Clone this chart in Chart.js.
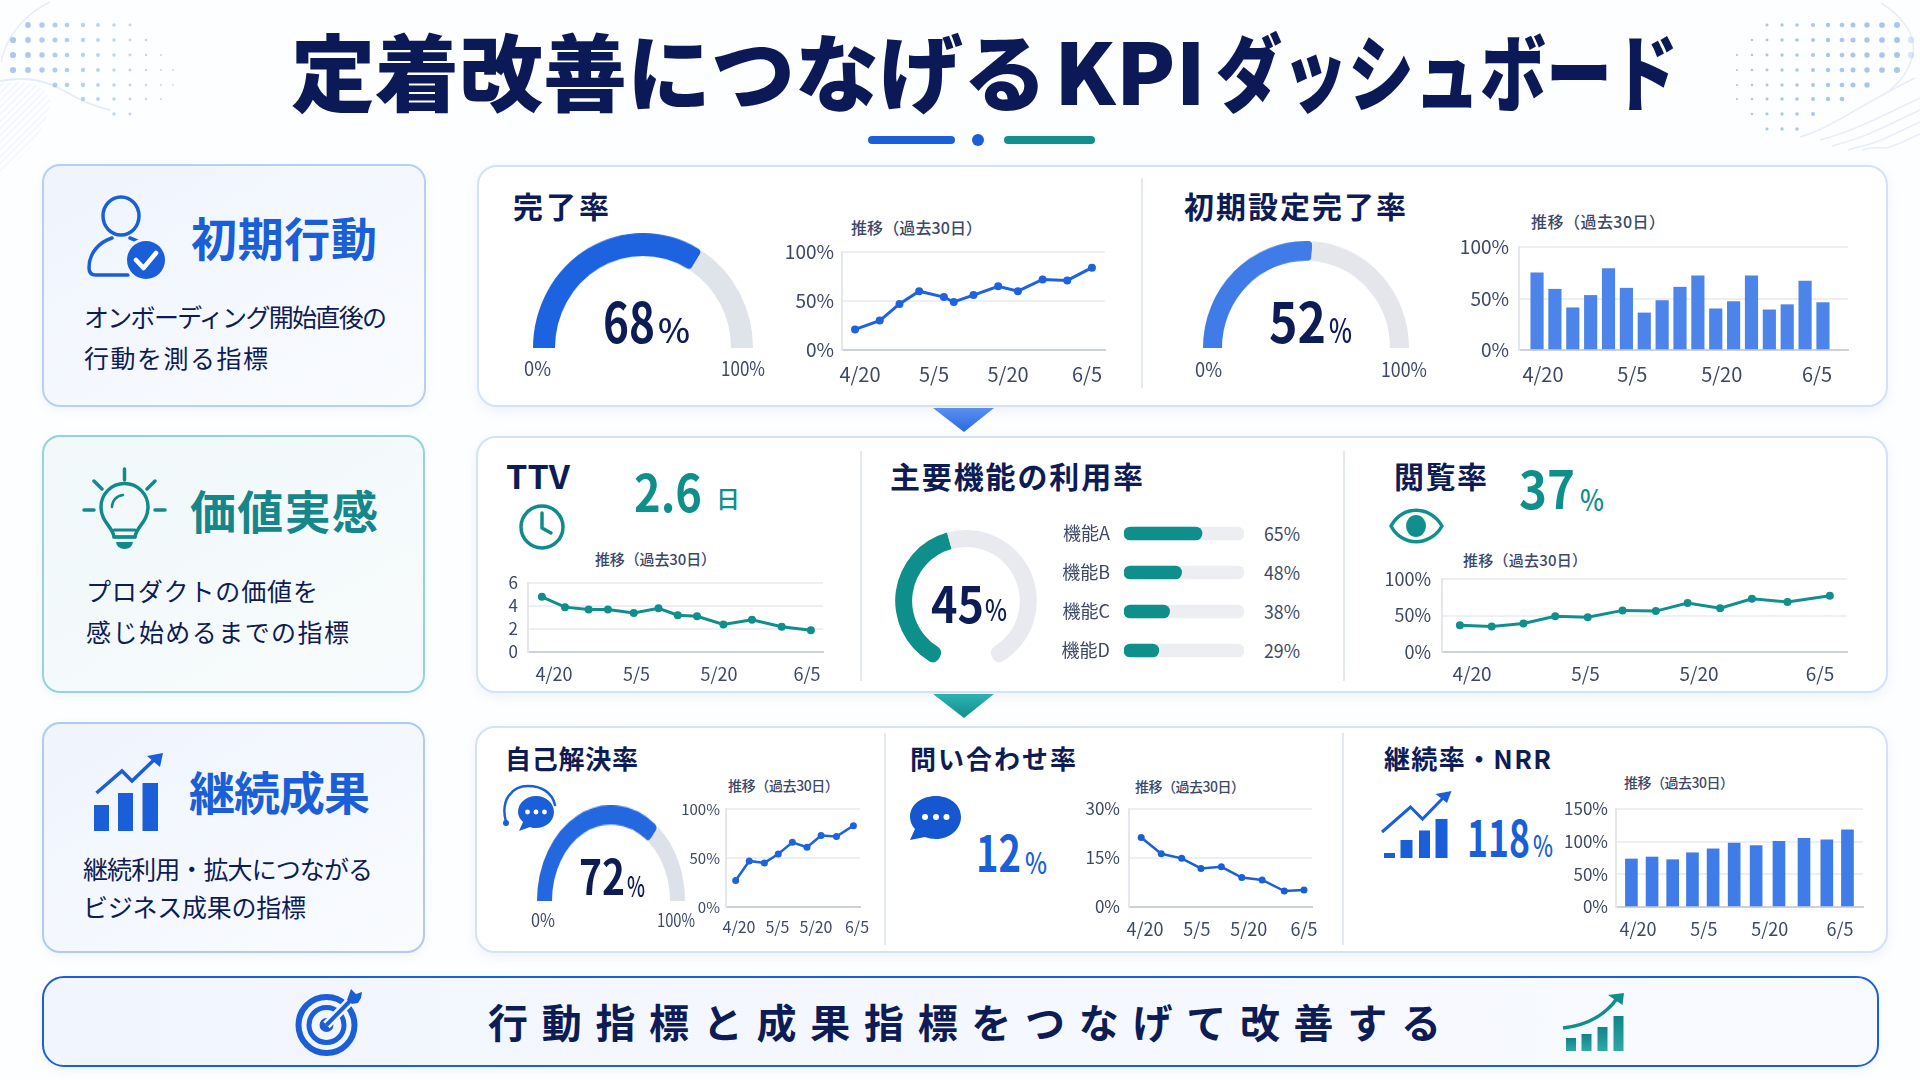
<!DOCTYPE html>
<html lang="ja">
<head>
<meta charset="utf-8">
<title>定着改善につなげるKPIダッシュボード</title>
<script src="https://cdn.jsdelivr.net/npm/chart.js@4"></script>
<style>
  html, body { margin: 0; padding: 0; background: #fdfeff; overflow: hidden; }
  #stage { position: relative; width: 1920px; height: 1080px; overflow: hidden; font-family: 'Noto Sans CJK JP', sans-serif; }
  #stage canvas { position: absolute; }
  .box { position: absolute; box-sizing: border-box; }
  .txt { position: absolute; white-space: nowrap; line-height: 1; transform-origin: left center; }
  svg.layer { position: absolute; left: 0; top: 0; pointer-events: none; }
</style>
</head>
<body>
<div id="stage"></div>
<script>
// ---- KPI values ----
const completionRate = 68;
const setupRate = 52;
const ttvValue = '2.6';
const coreFeatureRate = 45;
const viewRate = 37;
const selfServeRate = 72;
const inquiryRate = 12;
const retentionRate = 118;

// ---- Shared date axis: days counted from 4/20 ----
const tickDays = [0, 15, 30, 46];
const tickLabels = ['4/20', '5/5', '5/20', '6/5'];

// ---- Trend series ----
const completionDays = [-1, 4, 8, 12, 17, 19, 23, 28, 32, 37, 42, 47];
const completionTrend = [21, 30, 47, 60, 54, 49, 56, 65, 60, 72, 71, 84];

const setupDays = [-1, 2, 5, 8, 11, 14, 17, 20, 23, 26, 29, 32, 35, 38, 41, 44, 47];
const setupTrend = [75, 59, 41, 53, 79, 60, 36, 48, 61, 72, 40, 47, 72, 39, 44, 67, 46];

const ttvDays = [-2.2, 2, 6.3, 9.8, 14.5, 19, 22.5, 26, 30.8, 36, 41.4, 46.7];
const ttvTrend = [4.8, 3.9, 3.7, 3.7, 3.4, 3.8, 3.2, 3.1, 2.4, 2.8, 2.2, 1.9];

const viewDays = [-1.6, 2.6, 6.8, 11, 15.3, 19.9, 24.3, 28.5, 32.8, 37, 41.7, 47.3];
const viewTrend = [36.5, 35, 39, 49, 47.5, 57, 56, 67, 60, 73, 68.5, 77];

const selfServeDays = [-1.3, 4, 9.9, 15.3, 20.8, 26.5, 32, 38, 44.6];
const selfServeTrend = [27, 47, 45, 54, 66, 61, 73, 72, 83];

const inquiryDays = [-1.1, 4.7, 10.6, 16.2, 22.1, 28, 33.9, 40.3, 46];
const inquiryTrend = [21.3, 16.3, 14.9, 11.8, 12.3, 9, 8.3, 4.9, 5.2];

const retentionDays = [-1.5, 3.2, 7.9, 12.4, 17.1, 21.9, 26.9, 32.1, 37.8, 43, 47.7];
const retentionTrend = [73.5, 76.5, 72.4, 83, 89, 98, 94, 100.7, 105, 103, 118];

// ---- Feature usage ----
const featureNames = ['機能A', '機能B', '機能C', '機能D'];
const featureRates = [65, 48, 38, 29];

// ---- Palette and fonts ----
const NAVY = '#0e1c55', BLUE = '#1a5fd8', BLUE2 = '#4d84ea', TEAL = '#0f8f8c', MUTED = '#3d4868';
const JP = "'Noto Sans CJK JP', sans-serif";
const NARROW = "'Liberation Sans Narrow', 'Noto Sans CJK JP', sans-serif";

const stage = document.getElementById('stage');

// Rectangular card or panel in page coordinates.
function box(l, t, r, b, css) {
  const d = document.createElement('div');
  d.className = 'box';
  d.style.cssText = `left:${l}px;top:${t}px;width:${r - l}px;height:${b - t}px;${css}`;
  stage.appendChild(d);
}

// Text placed by its horizontal extent and vertical centre.
// Japanese runs are fitted with letter spacing, Latin and digit runs with a horizontal scale.
function text(str, x0, x1, yc, size, weight, color, family, parent) {
  const s = document.createElement('span');
  s.className = 'txt';
  s.textContent = str;
  s.style.cssText = `left:${x0}px;top:${yc - size / 2 - size * 0.06}px;font-size:${size}px;font-weight:${weight};color:${color};font-family:${family || JP};`;
  (parent || stage).appendChild(s);
  const w = s.getBoundingClientRect().width;
  if (/[^\x00-\x7f]/.test(str) && (x1 - x0) / w > 0.9) {
    s.style.letterSpacing = ((x1 - x0 - w) / (str.length - 1)) + 'px';
  } else {
    s.style.transform = `scaleX(${(x1 - x0) / w})`;
  }
}

function hline(x, y0, y1) {
  box(x - 1, y0, x + 1, y1, 'background:#e4e8f0;');
}

// Half-ring gauge; the canvas is stretched vertically to the ring's ry.
function gauge(value, cx, cy, rx, ry, thick, color, trackColor) {
  const c = document.createElement('canvas');
  c.width = rx * 2; c.height = rx;
  c.style.cssText = `left:${cx - rx}px;top:${cy - rx}px;width:${rx * 2}px;height:${rx}px;transform-origin:50% 100%;transform:scaleY(${ry / rx});`;
  stage.appendChild(c);
  new Chart(c, {
    type: 'doughnut',
    data: { datasets: [{
      data: [value, 100 - value],
      backgroundColor: [color, trackColor],
      borderWidth: 0,
      borderRadius: [{ outerStart: 0, innerStart: 0, outerEnd: 4, innerEnd: 4 }, 0]
    }] },
    options: {
      responsive: false, animation: false, devicePixelRatio: 1,
      rotation: -90, circumference: 180,
      cutout: ((1 - thick / rx) * 100) + '%',
      layout: { padding: 0 },
      plugins: { legend: { display: false }, tooltip: { enabled: false } }
    }
  });
}

// Open ring for the core feature rate.
function openRing(value, l, t, size, thick, color, trackColor) {
  const c = document.createElement('canvas');
  const h = Math.round(size * 0.953);
  c.width = size; c.height = h;
  c.style.cssText = `left:${l}px;top:${t}px;width:${size}px;height:${h}px;`;
  stage.appendChild(c);
  new Chart(c, {
    type: 'doughnut',
    data: { datasets: [{
      data: [value, 100 - value],
      backgroundColor: [color, trackColor],
      borderWidth: 0,
      borderRadius: [{ outerStart: 7, innerStart: 7, outerEnd: 0, innerEnd: 0 }, { outerStart: 0, innerStart: 0, outerEnd: 7, innerEnd: 7 }]
    }] },
    options: {
      responsive: false, animation: false, devicePixelRatio: 1,
      rotation: -155, circumference: 310,
      cutout: ((1 - thick / (size / 2)) * 100) + '%',
      layout: { padding: 0 },
      plugins: { legend: { display: false }, tooltip: { enabled: false } }
    }
  });
}

// Trend chart with a fixed plot box: the canvas is sized so the chart area lands on the box.
// The margins are generous so the scales' own label padding never shifts the box.
function trend(opt) {
  const { type, days, values, plot, tickL, tickR, yMax, yStep, ySuffix, yLabelRight, xLabelY, color, font, bar, line, point } = opt;
  const yW = 70, padT = 40, padR = 40, xH = 44;
  const c = document.createElement('canvas');
  const W = plot.r - plot.l + yW + padR, H = plot.b - plot.t + padT + xH;
  c.width = W; c.height = H;
  c.style.cssText = `left:${plot.l - yW}px;top:${plot.t - padT}px;width:${W}px;height:${H}px;`;
  stage.appendChild(c);
  const perDay = (tickR - tickL) / 46;
  new Chart(c, {
    type,
    data: { datasets: [{
      data: days.map((d, i) => ({ x: d, y: values[i] })),
      borderColor: color, backgroundColor: color,
      borderWidth: type === 'line' ? line : 0,
      pointRadius: point, pointBackgroundColor: color, pointBorderWidth: 0,
      tension: 0, barThickness: bar
    }] },
    options: {
      responsive: false, animation: false, devicePixelRatio: 1,
      layout: { autoPadding: false, padding: { top: padT, right: padR, left: 0, bottom: 0 } },
      plugins: { legend: { display: false }, tooltip: { enabled: false } },
      scales: {
        x: {
          type: 'linear', offset: false,
          min: (plot.l - tickL) / perDay, max: (plot.r - tickL) / perDay,
          afterBuildTicks: s => { s.ticks = tickDays.map(value => ({ value })); },
          afterFit: s => { s.height = xH; },
          grid: { display: false, drawTicks: false },
          border: { color: '#ccd1da', width: 2 },
          ticks: {
            autoSkip: false, maxRotation: 0, minRotation: 0, color: MUTED, font: { family: NARROW, size: font },
            padding: xLabelY - plot.b - font / 2,
            callback: v => tickLabels[tickDays.indexOf(v)]
          }
        },
        y: {
          min: 0, max: yMax,
          afterFit: s => { s.width = yW; },
          grid: { drawTicks: false, lineWidth: 2, color: ctx => ctx.tick.value === 0 ? 'rgba(0,0,0,0)' : '#edeff4' },
          border: { color: '#e4e7ee', width: 2 },
          ticks: {
            autoSkip: false, stepSize: yStep, color: MUTED, font: { family: NARROW, size: font - 1 },
            padding: plot.l - yLabelRight,
            callback: v => v + ySuffix
          }
        }
      }
    }
  });
}

// ---- Cards and panels ----
const panelCss = 'background:#fff;border:2px solid #d3e2f6;border-radius:20px;box-shadow:0 4px 12px rgba(120,150,200,.12);';
box(42, 164, 426, 407, 'background:linear-gradient(150deg,#eff4fd,#f9fbff);border:2px solid #b7cff4;border-radius:18px;box-shadow:0 3px 10px rgba(120,150,200,.10);');
box(42, 435, 425, 693, 'background:linear-gradient(150deg,#f0f8fa,#f8fbfc);border:2px solid #93d3da;border-radius:18px;box-shadow:0 3px 10px rgba(120,170,180,.10);');
box(42, 722, 425, 953, 'background:linear-gradient(150deg,#eff4fd,#f9fbff);border:2px solid #b0caf3;border-radius:18px;box-shadow:0 3px 10px rgba(120,150,200,.10);');
box(477, 165, 1888, 407, panelCss);
box(476, 436, 1888, 693, panelCss);
box(475, 726, 1888, 953, panelCss);
box(42, 976, 1879, 1067, 'background:linear-gradient(90deg,#f1f5fd,#f8faff);border:2.5px solid #1a5fd8;border-radius:22px;box-shadow:0 3px 10px rgba(120,150,200,.12);');

hline(1142, 178, 388);
hline(861, 451, 681);
hline(1344, 451, 681);
hline(885, 733, 945);
hline(1343, 733, 945);

// ---- Title: one element, three runs with their own widths ----
const titleEl = document.createElement('div');
titleEl.setAttribute('role', 'heading');
stage.appendChild(titleEl);
text('定着改善につなげる', 291, 1047, 74, 84, 900, '#0b1a57', JP, titleEl);
text('KPI', 1054, 1206, 74, 84, 900, '#0b1a57', JP, titleEl);
text('ダッシュボード', 1216, 1678, 74, 84, 900, '#0b1a57', JP, titleEl);
box(868, 136, 955, 144, 'background:#1a5fd8;border-radius:4px;');
box(972, 134, 984, 146, 'background:#1a5fd8;border-radius:50%;');
box(1004, 136, 1095, 144, 'background:#11908e;border-radius:4px;');

// ---- Left column ----
text('初期行動', 191, 377, 239, 46, 700, BLUE);
text('オンボーディング開始直後の', 84, 387, 318, 25, 400, NAVY);
text('行動を測る指標', 84, 268, 359, 25, 400, NAVY);

text('価値実感', 190, 378, 512, 46, 700, '#15868a');
text('プロダクトの価値を', 86, 318, 592, 25, 400, NAVY);
text('感じ始めるまでの指標', 86, 349, 633, 25, 400, NAVY);

text('継続成果', 189, 370, 793, 46, 700, BLUE);
text('継続利用・拡大につながる', 83, 373, 870, 25, 400, NAVY);
text('ビジネス成果の指標', 83, 306, 908, 25, 400, NAVY);

// ---- Row 1 ----
text('完了率', 513, 609, 207, 30, 700, NAVY);
gauge(completionRate, 642.5, 348, 110, 115, 22, '#1d62de', '#dfe3ea');
text(String(completionRate), 603, 655, 322, 56, 700, NAVY);
text('%', 658, 690, 331, 34, 500, NAVY);
text('0%', 524, 551, 369, 20, 400, MUTED, NARROW);
text('100%', 721, 765, 369, 20, 400, MUTED, NARROW);
text('推移（過去30日）', 851, 982, 228, 16, 500, MUTED);
trend({ type: 'line', days: completionDays, values: completionTrend,
  plot: { l: 842, r: 1105, t: 252, b: 350 }, tickL: 860, tickR: 1087,
  yMax: 100, yStep: 50, ySuffix: '%', yLabelRight: 834, xLabelY: 372,
  color: '#1d62de', font: 20, line: 3, point: 4 });

text('初期設定完了率', 1184, 1406, 207, 30, 700, NAVY);
gauge(setupRate, 1306, 348, 103, 107, 19, '#3f7ce8', '#e4e6ec');
text(String(setupRate), 1269, 1326, 322, 56, 700, NAVY);
text('%', 1329, 1352, 331, 34, 500, NAVY);
text('0%', 1195, 1222, 370, 20, 400, MUTED, NARROW);
text('100%', 1381, 1427, 370, 20, 400, MUTED, NARROW);
text('推移（過去30日）', 1531, 1665, 222, 16, 500, MUTED);
trend({ type: 'bar', days: setupDays, values: setupTrend,
  plot: { l: 1519, r: 1848, t: 247, b: 350 }, tickL: 1543, tickR: 1817,
  yMax: 100, yStep: 50, ySuffix: '%', yLabelRight: 1509, xLabelY: 372,
  color: BLUE2, font: 20, bar: 12.5 });

// ---- Row 2 ----
text('TTV', 506, 570, 477, 32, 700, NAVY);
text(ttvValue, 634, 702, 493, 52, 700, TEAL);
text('日', 716, 738, 499, 24, 500, TEAL);
text('推移（過去30日）', 595, 716, 559, 15, 500, MUTED);
trend({ type: 'line', days: ttvDays, values: ttvTrend,
  plot: { l: 528, r: 823, t: 583, b: 652 }, tickL: 554, tickR: 807,
  yMax: 6, yStep: 2, ySuffix: '', yLabelRight: 518, xLabelY: 672,
  color: TEAL, font: 18, line: 3, point: 4 });

text('主要機能の利用率', 890, 1143, 477, 30, 700, NAVY);
openRing(coreFeatureRate, 895, 530, 142, 17, TEAL, '#e8eaef');
text(String(coreFeatureRate), 931, 984, 604, 50, 700, NAVY);
text('%', 985, 1007, 610, 30, 500, NAVY);

// Horizontal feature bars: a value bar laid over a full-length track.
(function () {
  const plot = { l: 1124, r: 1244, t: 513.5, b: 669.5 }, yW = 70, margin = 30;
  const c = document.createElement('canvas');
  c.width = plot.r - plot.l + yW + 4; c.height = plot.b - plot.t + margin * 2;
  c.style.cssText = `left:${plot.l - yW}px;top:${plot.t - margin}px;width:${c.width}px;height:${c.height}px;`;
  stage.appendChild(c);
  new Chart(c, {
    type: 'bar',
    data: { labels: featureNames, datasets: [
      { data: featureRates, backgroundColor: TEAL, grouped: false, order: 0, barThickness: 13, borderRadius: 7, borderSkipped: false },
      { data: featureNames.map(() => 100), backgroundColor: '#eceef2', grouped: false, order: 1, barThickness: 13, borderRadius: 7, borderSkipped: false }
    ] },
    options: {
      indexAxis: 'y', responsive: false, animation: false, devicePixelRatio: 1,
      layout: { autoPadding: false, padding: { right: 4, top: margin, bottom: margin } },
      plugins: { legend: { display: false }, tooltip: { enabled: false } },
      scales: {
        x: { display: false, min: 0, max: 100 },
        y: {
          afterFit: s => { s.width = yW; },
          grid: { display: false, drawTicks: false }, border: { display: false },
          ticks: { color: MUTED, padding: 14, font: { family: JP, size: 18 } }
        }
      }
    }
  });
})();
featureRates.forEach((v, i) => {
  text(v + '%', 1264, 1300, 534 + i * 39, 19, 400, MUTED, NARROW);
});

text('閲覧率', 1394, 1487, 477, 30, 700, NAVY);
text(String(viewRate), 1519, 1575, 490, 52, 700, TEAL);
text('%', 1580, 1604, 500, 30, 500, TEAL);
text('推移（過去30日）', 1463, 1587, 560, 15, 500, MUTED);
trend({ type: 'line', days: viewDays, values: viewTrend,
  plot: { l: 1442, r: 1847, t: 579, b: 652 }, tickL: 1472, tickR: 1820,
  yMax: 100, yStep: 50, ySuffix: '%', yLabelRight: 1431, xLabelY: 672,
  color: '#118f8f', font: 19, line: 3, point: 4 });

// ---- Row 3 ----
text('自己解決率', 505, 638, 760, 26, 700, NAVY);
gauge(selfServeRate, 611, 901, 74, 96, 15, '#2468e0', '#dde1e9');
text(String(selfServeRate), 579, 625, 877, 48, 700, NAVY);
text('%', 627, 645, 887, 28, 500, NAVY);
text('0%', 531, 555, 920, 18, 400, MUTED, NARROW);
text('100%', 657, 695, 920, 18, 400, MUTED, NARROW);
text('推移（過去30日）', 728, 839, 786, 14, 500, MUTED);
trend({ type: 'line', days: selfServeDays, values: selfServeTrend,
  plot: { l: 726, r: 860, t: 809, b: 907 }, tickL: 739, tickR: 857,
  yMax: 100, yStep: 50, ySuffix: '%', yLabelRight: 720, xLabelY: 925,
  color: '#1d62de', font: 16, line: 2.5, point: 3.5 });

text('問い合わせ率', 910, 1076, 760, 26, 700, NAVY);
text(String(inquiryRate), 976, 1021, 853, 50, 700, BLUE);
text('%', 1025, 1047, 863, 30, 500, BLUE);
text('推移（過去30日）', 1135, 1245, 787, 14, 500, MUTED);
trend({ type: 'line', days: inquiryDays, values: inquiryTrend,
  plot: { l: 1129, r: 1312, t: 809, b: 907 }, tickL: 1145, tickR: 1304,
  yMax: 30, yStep: 15, ySuffix: '%', yLabelRight: 1120, xLabelY: 927,
  color: BLUE, font: 18, line: 2.5, point: 3.5 });

text('継続率・NRR', 1384, 1551, 760, 26, 700, NAVY);
text(String(retentionRate), 1467, 1530, 838, 50, 700, BLUE);
text('%', 1533, 1553, 846, 30, 500, BLUE);
text('推移（過去30日）', 1624, 1734, 783, 14, 500, MUTED);
trend({ type: 'bar', days: retentionDays, values: retentionTrend,
  plot: { l: 1616, r: 1863, t: 809, b: 907 }, tickL: 1638, tickR: 1840,
  yMax: 150, yStep: 50, ySuffix: '%', yLabelRight: 1608, xLabelY: 927,
  color: '#3f7ce8', font: 18, bar: 12 });

// ---- Bottom banner ----
text('行動指標と成果指標をつなげて改善する', 488, 1441, 1023, 40, 700, NAVY);

// ---- Decoration and icons drawn in page coordinates ----
const NS = 'http://www.w3.org/2000/svg';
const svg = document.createElementNS(NS, 'svg');
svg.setAttribute('class', 'layer');
svg.setAttribute('width', 1920); svg.setAttribute('height', 1080);
svg.setAttribute('viewBox', '0 0 1920 1080');
let art = `
<defs>
  <linearGradient id="tealBars" x1="0" y1="0" x2="0" y2="1"><stop offset="0" stop-color="#0f8488"/><stop offset="1" stop-color="#30a8a4"/></linearGradient>
  <linearGradient id="arrowBlue" x1="0" y1="0" x2="0" y2="1"><stop offset="0" stop-color="#5a90ee"/><stop offset="1" stop-color="#2a6ae2"/></linearGradient>
  <linearGradient id="arrowTeal" x1="0" y1="0" x2="0" y2="1"><stop offset="0" stop-color="#2fb2b4"/><stop offset="1" stop-color="#0f8f8c"/></linearGradient>
  <pattern id="hatch" width="5" height="5" patternUnits="userSpaceOnUse" patternTransform="rotate(45)"><rect width="1.6" height="5" fill="#e6ecf6"/></pattern>
</defs>
<!-- connectors between rows -->
<polygon points="933,408 994,408 964,432" fill="url(#arrowBlue)"/>
<polygon points="933,694 994,694 964,718" fill="url(#arrowTeal)"/>
<!-- corner flourishes -->
<path d="M50 2 C25 14 6 36 1 62" fill="none" stroke="#e6eef9" stroke-width="1.5"/>
<path d="M0 81 C26 76 46 80 66 92 C80 100 92 106 110 110" fill="none" stroke="#e4ecf8" stroke-width="2"/>
<path d="M0 84 C26 79 44 84 50 100 C48 130 24 160 0 172 Z" fill="url(#hatch)" opacity=".45"/>
<path d="M1881 3 C1905 18 1918 38 1912 58 C1908 72 1900 82 1890 90" fill="none" stroke="#e6eef9" stroke-width="1.5"/>`;
[[1800, 137, 1915, 78], [1820, 140, 1920, 98], [1832, 146, 1920, 110], [1848, 150, 1920, 122], [1862, 150, 1920, 134]].forEach(p => {
  art += `<path d="M${p[0]} ${p[1]} C${p[0] + 30} ${p[1] - 8} ${p[2] - 50} ${p[3] + 24} ${p[2]} ${p[3]}" fill="none" stroke="#e6eef9" stroke-width="1.5"/>`;
});
// Corner dot fields, larger toward the outer edge
const leftCols = [13, 28, 42, 55, 67, 83, 98, 114, 130, 146, 161, 173];
const leftRows = [[25, 1, 8], [40, 0, 9], [55, 0, 10], [70, 0, 11], [85, 3, 11], [99, 5, 10], [114, 7, 8]];
leftRows.forEach(([y, a, b]) => {
  for (let i = a; i <= b; i++) {
    const x = leftCols[i];
    art += `<circle cx="${x}" cy="${y}" r="${Math.max(0.8, 3.3 - x * 0.014)}" fill="#a6c2ef" opacity="${0.95 - x * 0.002}"/>`;
  }
});
const rightCols = [1737, 1752, 1767, 1782, 1797, 1813, 1828, 1842, 1853, 1867, 1882, 1897, 1911];
const rightRows = [[25, 2, 11], [40, 1, 12], [55, 0, 12], [70, 0, 11], [85, 0, 9], [99, 0, 7], [114, 1, 5], [129, 2, 4]];
rightRows.forEach(([y, a, b]) => {
  for (let i = a; i <= b; i++) {
    const x = rightCols[i];
    art += `<circle cx="${x}" cy="${y}" r="${Math.max(0.8, 3.2 - (1911 - x) * 0.012)}" fill="#a6c2ef" opacity="${i === 12 ? 0.4 : 0.95}"/>`;
  }
});
art += `
<!-- person with check badge -->
<g fill="none" stroke="${BLUE}" stroke-width="3.5" stroke-linecap="round" stroke-linejoin="round">
  <ellipse cx="121" cy="216" rx="18" ry="19"/>
  <path d="M128 275 H96 Q89 275 89 268 C89 252 100 242 112 238 M130 238 Q139 241 146 246"/>
</g>
<circle cx="146" cy="260" r="22" fill="#f2f6fd"/>
<circle cx="146" cy="260" r="19" fill="${BLUE}"/>
<path d="M136 260 L143.5 268 L156 253" fill="none" stroke="#fff" stroke-width="4.5" stroke-linecap="round" stroke-linejoin="round"/>

<!-- light bulb -->
<g fill="none" stroke="#118a8c" stroke-width="3.5" stroke-linecap="round" stroke-linejoin="round">
  <path d="M114 537 C113 527 101 522 101 507 A23.500 23.500 0 0 1 148 507 C148 522 136 527 135 537 Z"/>
  <path d="M114 530 H135 M114 537 H135" stroke-width="3"/>
  <path d="M124.500 469 V480 M94 481 L102 489 M155 481 L147 489 M84 510 H94 M155 510 H165"/>
  <path d="M112 507 C112 501 116 496 123 495" stroke-width="2.500"/>
</g>
<path d="M116 542 H133 Q132 549 124.500 549 Q117 549 116 542 Z" fill="#118a8c"/>

<!-- rising bars with arrow -->
<g fill="${BLUE}">
  <rect x="94" y="805" width="15" height="26"/><rect x="118" y="793" width="15" height="38"/><rect x="142.500" y="783" width="15.500" height="48"/>
  <polygon points="147,756 163,753 160,767"/>
</g>
<polyline points="96.500,793 122,771 132,781 158,756" fill="none" stroke="${BLUE}" stroke-width="3.500" stroke-linejoin="miter"/>

<!-- clock -->
<g fill="none" stroke="#118a8c" stroke-width="3.500" stroke-linecap="round" stroke-linejoin="round">
  <circle cx="542" cy="527" r="21"/>
  <path d="M542 513 V528 L551 533"/>
</g>

<!-- eye -->
<path d="M1391 526 C1402 505 1430 505 1442 526 C1430 547 1402 547 1391 526 Z" fill="none" stroke="#118f8f" stroke-width="3.500" stroke-linejoin="round"/>
<ellipse cx="1416" cy="526" rx="10" ry="11" fill="#118f8f"/>

<!-- headset and speech bubble -->
<path d="M506 822 C500 800 512 786 528 786 C541 786 552 792 555 805" fill="none" stroke="${BLUE}" stroke-width="2.500" stroke-linecap="round"/>
<circle cx="506" cy="823" r="3" fill="${BLUE}"/>
<path d="M536 796 C546 796 554 803 554 812 C554 821 546 828 536 828 C534 828 532 828 530 827 L519 831 L523 822 C520 819 518 816 518 812 C518 803 526 796 536 796 Z" fill="${BLUE}"/>
<g fill="#fff"><circle cx="527.500" cy="812" r="2.400"/><circle cx="536" cy="812" r="2.400"/><circle cx="544.500" cy="812" r="2.400"/></g>

<!-- chat bubble -->
<path d="M936 796 C950 796 961 805 961 817 C961 829 950 839 936 839 C932 839 928 838 925 837 L910 840 L915 829 C912 826 910 821 910 817 C910 805 921 796 936 796 Z" fill="#1557d0"/>
<g fill="#fff"><circle cx="925" cy="817" r="3"/><circle cx="936" cy="817" r="3"/><circle cx="946.500" cy="817" r="3"/></g>

<!-- rising bars with arrow -->
<g fill="${BLUE}">
  <rect x="1384" y="853" width="11" height="5"/><rect x="1400.500" y="840" width="12" height="18"/><rect x="1419" y="830.500" width="11" height="27.500"/><rect x="1435.500" y="819" width="12" height="39"/>
  <polygon points="1435.500,794 1451.500,791 1447,803"/>
</g>
<polyline points="1382,832 1410.500,807 1422.500,819 1445,796" fill="none" stroke="${BLUE}" stroke-width="3" stroke-linejoin="miter"/>

<!-- target -->
<g fill="none" stroke="${BLUE}">
  <circle cx="326.500" cy="1025" r="28" stroke-width="6"/>
  <circle cx="326.500" cy="1025" r="17.500" stroke-width="5"/>
</g>
<circle cx="326.500" cy="1025" r="7" fill="${BLUE}"/>
<path d="M326.500 1025 L352 999" stroke="#f4f7fd" stroke-width="9"/>
<path d="M326.500 1025 L352 999" stroke="${BLUE}" stroke-width="4"/>
<polygon points="347,1000 351,989 356,994 362,992 361,998 358,1003 352,1004" fill="${BLUE}"/>

<!-- growth curve with bars -->
<g fill="url(#tealBars)">
  <rect x="1566" y="1038" width="10" height="13"/><rect x="1581.500" y="1034" width="10" height="17"/><rect x="1597.500" y="1027" width="10" height="24"/><rect x="1613.500" y="1016" width="10" height="35"/>
</g>
<path d="M1563 1028 C1590 1025 1608 1012 1618 997" fill="none" stroke="#0f8f8c" stroke-width="3.500"/>
<polygon points="1608,995 1624,993 1622.500,1005" fill="#0f8f8c"/>`;
svg.innerHTML = art;
stage.appendChild(svg);
</script>
</body>
</html>
